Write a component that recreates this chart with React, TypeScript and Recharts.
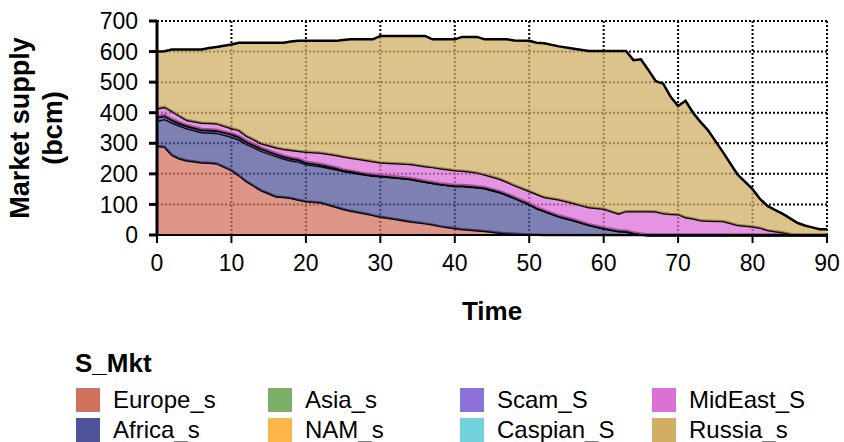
import React from 'react';
import { AreaChart, Area, XAxis, YAxis, CartesianGrid } from 'recharts';

const years = [0,1,2,3,4,6,7,8,10,11,12,14,16,17,18,19,20,22,24,25,26,28,29,30,32,34,36,37,38,40,41,42,43,44,46,47,48,50,51,52,54,56,58,60,62,63,64,65,66,67,68,69,70,71,72,73,74,76,78,80,81,82,83,84,85,86,87,88,89,90];

const europe = [291,289,262,250,244,237,236,234,212,195,176,146,126,124,121,115,110,106,92,85,79,70,65,60,52,44,38,34,29,22,19,17,15,13,7,5,4,2,1,0,0,0,0,0,0,0,0,0,0,0,0,0,0,0,0,0,0,0,0,0,0,0,0,0,0,0,0,0,0,0];
const africa = [82,90,106,108,105,99,99,100,109,117,122,129,132,126,123,125,121,119,123,124,126,127,129,132,136,139,136,136,137,138,141,141,141,140,133,126,118,99,87,79,61,48,33,22,13,12,6,2,0,0,0,0,0,0,0,0,0,0,0,0,0,0,0,0,0,0,0,0,0,0];
const scam = [13,12,10,9,9,9,9,9,10,10,9,9,8,8,8,8,7,6,5,4,4,3,3,3,2,2,2,2,2,2,2,2,2,2,2,2,1,1,1,1,1,1,1,1,1,1,1,1,0,0,0,0,0,0,0,0,0,0,0,0,0,0,0,0,0,0,0,0,0,0];
const mideast = [28,28,27,23,18,22,22,22,18,21,18,16,20,23,26,27,34,38,42,44,44,45,44,42,45,47,49,50,50,50,48,48,46,43,42,41,40,42,45,44,54,55,57,63,56,65,71,75,78,77,71,69,68,58,54,48,47,46,33,28,24,16,12,9,4,0,0,0,0,0];
const russia = [186,182,202,217,231,240,246,250,274,286,304,329,343,348,355,360,363,366,373,381,387,395,399,414,416,419,426,418,422,428,438,440,444,442,456,466,473,491,495,503,501,505,511,516,532,524,494,497,462,426,424,383,354,381,346,322,296,226,164,122,94,79,70,61,51,40,31,25,19,19];

const xTicks = [0,10,20,30,40,50,60,70,80,90];
const yTicks = [0,100,200,300,400,500,600,700];

const legendTitle = 'S_Mkt';
const seriesNames = ['Europe_s','Africa_s','Asia_s','NAM_s','Scam_S','Caspian_S','MidEast_S','Russia_s'];
const seriesColors = ['#D2705F','#51539A','#7BAF63','#FDB64A','#8A72D8','#73D1DC','#DA6FD6','#D0AE63'];

const data = years.map((t, i) => ({
  t,
  Europe_s: europe[i],
  Africa_s: africa[i],
  Scam_S: scam[i],
  MidEast_S: mideast[i],
  Russia_s: russia[i],
}));

const drawn = ['Europe_s','Africa_s','Scam_S','MidEast_S','Russia_s'];
const FONT = '"Liberation Sans", Arial, sans-serif';

const YLabel = () => (
  <g fontFamily={FONT} fontWeight="bold" fontSize={27} fill="#000">
    <text x={29} y={128} textAnchor="middle" transform="rotate(-90 29 128)">Market supply</text>
    <text x={62} y={128} textAnchor="middle" transform="rotate(-90 62 128)">(bcm)</text>
  </g>
);

export default function App() {
  return (
    <div style={{ position: 'absolute', left: 0, top: 0, width: 844, height: 442, background: '#fff' }}>
      <AreaChart width={844} height={442} data={data} margin={{ top: 21, right: 17, bottom: 112, left: 0 }}>
        <CartesianGrid stroke="#000" strokeDasharray="2 2" strokeWidth={2} horizontalValues={yTicks} verticalValues={xTicks} />
        <XAxis
          type="number"
          dataKey="t"
          domain={[0, 90]}
          ticks={xTicks}
          height={95}
          stroke="#000"
          strokeWidth={2}
          tickSize={8}
          tickMargin={12}
          tick={{ fill: '#000', fontSize: 23, fontFamily: FONT }}
          label={{ value: 'Time', position: 'insideBottom', offset: 10, fill: '#000', fontSize: 26, fontWeight: 'bold', fontFamily: FONT }}
        />
        <YAxis
          type="number"
          domain={[0, 700]}
          ticks={yTicks}
          width={157}
          stroke="#000"
          strokeWidth={3}
          tickSize={8}
          tickMargin={11}
          interval={0}
          tick={{ fill: '#000', fontSize: 23, fontFamily: FONT }}
          label={<YLabel />}
        />
        {drawn.map((k) => (
          <Area
            key={k}
            type="linear"
            dataKey={k}
            stackId="s"
            stroke="#000"
            strokeWidth={k === 'Scam_S' ? 3.5 : 2.5}
            fill={seriesColors[seriesNames.indexOf(k)]}
            fillOpacity={0.74}
            isAnimationActive={false}
          />
        ))}
      </AreaChart>
      <svg width={844} height={442} style={{ position: 'absolute', left: 0, top: 0, pointerEvents: 'none' }}>
        <text x={75} y={372} fontFamily={FONT} fontWeight="bold" fontSize={26} fill="#000">{legendTitle}</text>
        {seriesNames.map((n, i) => {
          const col = Math.floor(i / 2);
          const row = i % 2;
          const x = 76 + col * 192;
          const y = 388 + row * 30;
          return (
            <g key={n}>
              <rect x={x} y={y} width={24} height={24} fill={seriesColors[i]} />
              <text x={x + 37} y={y + 20} fontFamily={FONT} fontSize={24} fill="#000">{n}</text>
            </g>
          );
        })}
      </svg>
    </div>
  );
}
